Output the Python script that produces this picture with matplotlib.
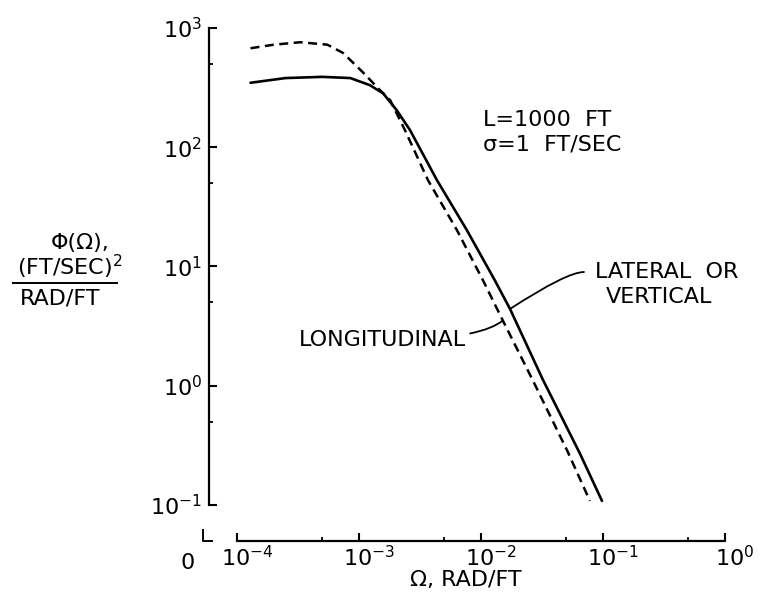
import numpy as np
import matplotlib
matplotlib.use("Agg")
import matplotlib.pyplot as plt
from matplotlib.lines import Line2D
from matplotlib.ticker import FixedLocator, NullFormatter
import matplotlib.transforms as mtransforms

# lateral / vertical spectrum (solid)
lat_omega = [1.29e-4, 2.5e-4, 5.0e-4, 8.5e-4, 1.23e-3, 1.58e-3, 2.04e-3, 2.62e-3,
             4.36e-3, 7.67e-3, 1.30e-2, 1.73e-2, 3.22e-2, 6.47e-2, 9.82e-2]
lat_phi = [347, 380, 389, 380, 331, 282, 204, 139, 52.8, 20.1, 7.63, 4.40, 1.12, 0.27, 0.108]

# longitudinal spectrum (dashed)
lon_omega = [1.29e-4, 2.0e-4, 3.3e-4, 5.5e-4, 7.4e-4, 1.07e-3, 1.48e-3, 1.80e-3,
             2.38e-3, 3.68e-3, 6.36e-3, 1.04e-2, 1.51e-2, 2.67e-2, 5.1e-2, 7.82e-2]
lon_phi = [676, 724, 759, 724, 617, 427, 302, 248, 139, 52.8, 20.1, 7.63, 3.52, 1.10,
           0.284, 0.108]

x_ticks = [1e-4, 1e-3, 1e-2, 1e-1, 1e0]
x_labels = [r'$10^{-4}$', r'$10^{-3}$', r'$10^{-2}$', r'$10^{-1}$', r'$10^{0}$']
y_ticks = [1e-1, 1e0, 1e1, 1e2, 1e3]
y_labels = [r'$10^{-1}$', r'$10^{0}$', r'$10^{1}$', r'$10^{2}$', r'$10^{3}$']

W, H = 776, 603
FS = 16
plt.rcParams['font.family'] = 'DejaVu Sans'
plt.rcParams['mathtext.default'] = 'regular'


def px(x, y):
    # pixel position (from top-left) -> figure fraction
    return x / W, 1 - y / H


fig = plt.figure(figsize=(W / 100, H / 100), dpi=100)
left, right, top, bottom = 209, 731, 22, 541
ax = fig.add_axes([left / W, (H - bottom) / H, (right - left) / W, (bottom - top) / H])
ax.set_xscale('log')
ax.set_yscale('log')
ax.set_xlim(10 ** -4.23, 10 ** 0.05)
ax.set_ylim(10 ** -1.303, 10 ** 3.05)

ax.plot(lat_omega, lat_phi, color='black', lw=1.9, solid_capstyle='round')
ax.plot(lon_omega, lon_phi, color='black', lw=1.8, dashes=(3.6, 2.2))

for s in ['top', 'right']:
    ax.spines[s].set_visible(False)
ax.spines['left'].set_bounds(1e-1, 1e3)
ax.spines['bottom'].set_bounds(1e-4, 1e0)
for s in ['left', 'bottom']:
    ax.spines[s].set_linewidth(1.6)

ax.xaxis.set_major_locator(FixedLocator(x_ticks))
ax.yaxis.set_major_locator(FixedLocator(y_ticks))
ax.xaxis.set_minor_locator(FixedLocator([5e-4, 5e-3, 5e-2, 5e-1]))
ax.yaxis.set_minor_locator(FixedLocator([5e-1, 5e0, 5e1, 5e2]))
ax.xaxis.set_minor_formatter(NullFormatter())
ax.yaxis.set_minor_formatter(NullFormatter())
ax.set_xticklabels(x_labels)
ax.set_yticklabels(y_labels)
ax.tick_params(which='major', direction='in', length=6, width=1.5, labelsize=FS)
ax.tick_params(which='minor', direction='in', length=3, width=1.3)
ax.tick_params(axis='y', pad=5)
ax.tick_params(axis='x', pad=3)
shift = mtransforms.ScaledTranslation(10 / 100, 0, fig.dpi_scale_trans)
for lab in ax.get_xticklabels():
    lab.set_transform(lab.get_transform() + shift)

# broken origin corner and zero
ax.plot([-0.012, -0.012, 0.006], [0.022, 0.0, 0.0], color='black', lw=1.4,
        transform=ax.transAxes, clip_on=False)
fig.text(*px(188, 563), '0', fontsize=FS, ha='center', va='center')

# axis titles
fig.text(*px(466, 580), 'Ω, RAD/FT', fontsize=FS, ha='center', va='center')
fig.text(*px(80, 243), 'Φ(Ω),', fontsize=FS, ha='center', va='center')
fig.text(*px(70, 267), r'(FT/SEC)$^2$', fontsize=FS, ha='center', va='center')
fig.add_artist(Line2D([13 / W, 117 / W], [1 - 283 / H, 1 - 283 / H], color='black', lw=1.4))
fig.text(*px(60, 298), 'RAD/FT', fontsize=FS, ha='center', va='center')

# parameters
fig.text(*px(483, 120), 'L=1000  FT', fontsize=FS, ha='left', va='center')
fig.text(*px(483, 145), 'σ=1  FT/SEC', fontsize=FS, ha='left', va='center')

# curve labels with leaders
fig.text(*px(595, 272), 'LATERAL  OR', fontsize=FS, ha='left', va='center')
fig.text(*px(606, 297), 'VERTICAL', fontsize=FS, ha='left', va='center')
ax.annotate('', xy=(lat_omega[11], lat_phi[11]), xytext=(584, H - 272),
            textcoords='figure pixels',
            arrowprops=dict(arrowstyle='-', lw=1.3, color='black',
                            connectionstyle='angle3,angleA=0,angleB=33',
                            shrinkA=0, shrinkB=0))
ax.annotate('LONGITUDINAL', xy=(lon_omega[12], lon_phi[12]), xytext=(466, H - 340),
            textcoords='figure pixels', fontsize=FS, ha='right', va='center',
            arrowprops=dict(arrowstyle='-', lw=1.3, color='black',
                            connectionstyle='angle3,angleA=0,angleB=40',
                            shrinkA=1, shrinkB=0))

fig.savefig('out.png', dpi=100)
